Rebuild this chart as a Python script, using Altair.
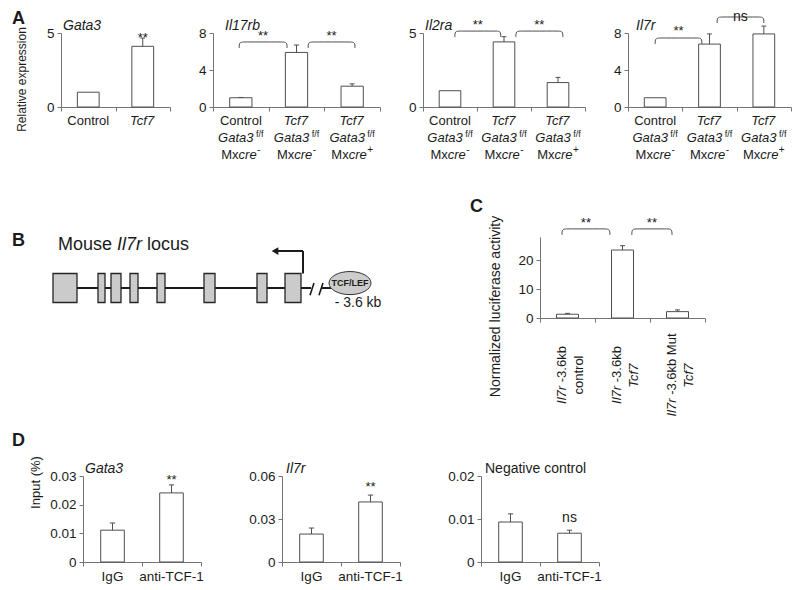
import altair as alt
import pandas as pd

FONT = "Liberation Sans"
INK = "#1b1b1b"
AXIS_C = "#747474"
BAR_C = "#4f4f4f"

# ---------------- Panel A : relative expression ----------------
gata3_groups = ["Control", "Tcf7"]
gata3_values = [1.0, 4.1]
gata3_err = [1.0, 4.66]
gata3_stars = [(1.5, 4.93, "**")]

cko_line1 = ["Control", "Tcf7", "Tcf7"]
cko_mxcre = ["-", "-", "+"]

il17rb_values = [1.0, 5.9, 2.25]
il17rb_err = [1.03, 6.7, 2.5]
il17rb_brackets = [(0.47, 1.33, 7.03, "**", 8.1), (1.71, 2.55, 7.03, "**", 8.1)]

il2ra_values = [1.1, 4.4, 1.65]
il2ra_err = [1.1, 4.75, 2.0]
il2ra_brackets = [(0.59, 1.44, 5.13, "**", 5.8), (1.72, 2.59, 5.13, "**", 5.8)]

il7r_values = [1.0, 6.8, 7.9]
il7r_err = [1.0, 7.9, 8.75]
il7r_brackets = [(0.5, 1.36, 7.46, "**", 8.65), (1.64, 2.5, 9.73, "ns", 9.78)]

# ---------------- Panel B : Il7r locus schematic ----------------
exon_start = [0, 45, 58, 77, 104, 151, 204, 232]
exon_end = [24, 52, 68, 85, 112, 162, 214, 248]
backbone_start = [0, 268]
backbone_end = [258, 315]
break_pos = [259, 268]
tss_pos = [250]
tcf_site = [297]

# ---------------- Panel C : luciferase ----------------
luc_line1_rest = ["-3.6kb", "-3.6kb", "-3.6kb Mut"]
luc_line2 = ["control", "Tcf7", "Tcf7"]
luc_values = [1.3, 23.5, 2.2]
luc_err = [1.6, 25.0, 2.8]
luc_brackets = [(0.4, 1.27, 30.8, "**", 34.3), (1.67, 2.4, 30.8, "**", 34.3)]

# ---------------- Panel D : ChIP ----------------
chip_groups = ["IgG", "anti-TCF-1"]
chip_gata3 = [0.0111, 0.0241]
chip_gata3_err = [0.0136, 0.0269]
chip_il7r = [0.0195, 0.0419]
chip_il7r_err = [0.0237, 0.0467]
chip_neg = [0.0093, 0.0067]
chip_neg_err = [0.0112, 0.0074]

# approximate Arial / Liberation Sans advance widths (per 1000 em)
CHAR_W = {" ": 278, "-": 333, ".": 278, "/": 278, "+": 584, "*": 389, "%": 889,
          "(": 333, ")": 333,
          "A": 667, "B": 667, "C": 722, "D": 722, "E": 667, "F": 611, "G": 778,
          "I": 278, "L": 556, "M": 833, "N": 722, "T": 611,
          "a": 556, "b": 556, "c": 500, "d": 556, "e": 556, "f": 278, "g": 556,
          "i": 222, "k": 500, "l": 222, "m": 833, "n": 556, "o": 556, "p": 556,
          "r": 333, "s": 500, "t": 278, "u": 556, "v": 500, "x": 500, "y": 500, "z": 500}
for _d in "0123456789":
    CHAR_W[_d] = 556


def text_w(s, size):
    return sum(CHAR_W.get(ch, 556) for ch in s) * size / 1000.0


def letter(ch, x, y):
    return alt.Chart(pd.DataFrame({"t": [ch]})).mark_text(
        align="left", baseline="middle", fontSize=18, fontWeight="bold", color=INK, font=FONT
    ).encode(x=alt.value(x), y=alt.value(y), text="t:N")


def gene_name(text, dx, italic=True):
    return alt.Chart(pd.DataFrame({"t": [text]})).mark_text(
        align="left", baseline="alphabetic", fontSize=14,
        fontStyle="italic" if italic else "normal", color=INK, font=FONT
    ).encode(x=alt.value(dx), y=alt.value(-3), text="t:N")


def bar_panel(values, errs, ymax, yticks, width, height, brackets=(), stars=(),
              ytitle=None, ytitle_xy=(0, 0), ytitle_size=13):
    n = len(values)
    xs = alt.Scale(domain=[0, n], nice=False, zero=False)
    ys = alt.Scale(domain=[0, ymax], nice=False, zero=True)
    xax = alt.Axis(values=list(range(n + 1)), labels=False, title=None, grid=False,
                   tickSize=4, tickColor=AXIS_C, domainColor=AXIS_C)
    yk = dict(values=list(yticks), format="~r", grid=False, tickSize=4, tickColor=AXIS_C,
              domainColor=AXIS_C, labelFontSize=13.5, labelColor=INK, labelFont=FONT,
              labelPadding=3)
    if ytitle:
        yk.update(title=ytitle, titleFont=FONT, titleFontSize=ytitle_size, titleFontWeight="normal",
                  titleColor=INK, titleAngle=270, titleAlign="center", titleBaseline="middle",
                  titleX=ytitle_xy[0], titleY=ytitle_xy[1])
    else:
        yk["title"] = None
    yax = alt.Axis(**yk)

    def X(f):
        return alt.X(f, type="quantitative", scale=xs, axis=xax)

    def Y(f):
        return alt.Y(f, type="quantitative", scale=ys, axis=yax)

    df = pd.DataFrame({"i": list(range(n)), "v": values, "e": errs})
    base = alt.Chart(df).transform_calculate(
        lo="datum.i + 0.3", hi="datum.i + 0.7", c="datum.i + 0.5",
        c0="datum.i + 0.455", c1="datum.i + 0.545", z="0")
    layers = [
        base.mark_rect(fill="white", stroke=BAR_C, strokeWidth=1).encode(
            x=X("lo"), x2=alt.X2("hi"), y=Y("v"), y2=alt.Y2("z")),
    ]
    eb = base.transform_filter("datum.e > datum.v")
    layers.append(eb.mark_rule(color=BAR_C, strokeWidth=1).encode(
        x=X("c"), y=Y("v"), y2=alt.Y2("e")))
    layers.append(eb.mark_rule(color=BAR_C, strokeWidth=1).encode(
        x=X("c0"), x2=alt.X2("c1"), y=Y("e")))

    drop = 6.0 * ymax / height
    rows = []
    star_rows = list(stars)
    for bid, (a, b, lev, lab, llev) in enumerate(brackets):
        r = 0.09
        pts = [(a, lev - drop), (a, lev), (a + r, lev), (b - r, lev), (b, lev), (b, lev - drop)]
        for k, (px_, py_) in enumerate(pts):
            rows.append({"id": bid, "k": k, "bx": px_, "by": py_})
        star_rows.append(((a + b) / 2.0, llev, lab))
    if rows:
        layers.append(alt.Chart(pd.DataFrame(rows)).mark_line(
            interpolate="basis", color=BAR_C, strokeWidth=1).encode(
            x=X("bx"), y=Y("by"), detail="id:N", order="k:Q"))
    for lab in sorted(set(s[2] for s in star_rows)):
        sdf = pd.DataFrame([{"sx": s[0], "sy": s[1], "t": s[2]} for s in star_rows if s[2] == lab])
        layers.append(alt.Chart(sdf).mark_text(
            fontSize=13 if lab == "**" else 14, dy=4 if lab == "**" else 0,
            baseline="middle", align="center", color=INK, font=FONT).encode(
            x=X("sx"), y=Y("sy"), text="t:N"))
    return layers, X, n


def line_parts(i, parts, n, width, yoff):
    total = sum(p[4] + text_w(p[0], p[2]) for p in parts)
    cur = -total / 2.0
    out = []
    for t, it, sz, rz, gap in parts:
        cur += gap
        out.append({"x": i + 0.5 + cur * n / width, "text": t, "italic": bool(it),
                    "size": float(sz), "yoff": float(yoff - rz)})
        cur += text_w(t, sz)
    return out


def label_layers(rows, X, height):
    df = pd.DataFrame(rows)
    out = []
    for key, g in df.groupby(["italic", "size", "yoff"], sort=False):
        it, sz, yo = key
        out.append(alt.Chart(g[["x", "text"]].reset_index(drop=True)).mark_text(
            align="left", baseline="middle", fontSize=float(sz),
            fontStyle="italic" if bool(it) else "normal", color=INK, font=FONT).encode(
            x=X("x"), y=alt.value(float(height + yo)), text="text:N"))
    return out


def cko_rows(n, width):
    rows = []
    for i in range(3):
        rows += line_parts(i, [(cko_line1[i], cko_line1[i] != "Control", 13, 0, 0)], n, width, 14)
        rows += line_parts(i, [("Gata3", True, 13, 0, 0), ("f/f", False, 9, 4, 2.5)], n, width, 31)
        rows += line_parts(i, [("Mx", False, 13, 0, 0), ("cre", True, 13, 0, 0),
                               (cko_mxcre[i], False, 10, 5, 0.5)], n, width, 48)
    return rows


H_A = 74
# ---- A1 Gata3
W1 = 109
lay, X, n = bar_panel(gata3_values, gata3_err, 5, [0, 5], W1, H_A, stars=gata3_stars,
                      ytitle="Relative expression", ytitle_xy=(-40, 46), ytitle_size=12)
rows = []
for i, g in enumerate(gata3_groups):
    rows += line_parts(i, [(g, g != "Control", 13, 0, 0)], n, W1, 14)
lay += label_layers(rows, X, H_A)
lay.append(letter("A", -49, -14))
lay.append(gene_name("Gata3", 2))
a1 = alt.layer(*lay).properties(width=W1, height=H_A)

# ---- A2 Il17rb
W2 = 167
lay, X, n = bar_panel(il17rb_values, il17rb_err, 8, [0, 4, 8], W2, H_A, brackets=il17rb_brackets)
lay += label_layers(cko_rows(n, W2), X, H_A)
lay.append(gene_name("Il17rb", 12))
a2 = alt.layer(*lay).properties(width=W2, height=H_A)

# ---- A3 Il2ra
W3 = 162
lay, X, n = bar_panel(il2ra_values, il2ra_err, 5, [0, 5], W3, H_A, brackets=il2ra_brackets)
lay += label_layers(cko_rows(n, W3), X, H_A)
lay.append(gene_name("Il2ra", 2))
a3 = alt.layer(*lay).properties(width=W3, height=H_A)

# ---- A4 Il7r
W4 = 163
lay, X, n = bar_panel(il7r_values, il7r_err, 8, [0, 4, 8], W4, H_A, brackets=il7r_brackets)
lay += label_layers(cko_rows(n, W4), X, H_A)
lay.append(gene_name("Il7r", 8))
a4 = alt.layer(*lay).properties(width=W4, height=H_A)

# ---------------- Panel B chart ----------------
WB, HB = 320, 108
bxs = alt.Scale(domain=[8, 328], nice=False, zero=False)
bys = alt.Scale(domain=[-3.931, 3.517], nice=False, zero=False)


def BX(f):
    return alt.X(f, type="quantitative", scale=bxs, axis=None)


def BY(f):
    return alt.Y(f, type="quantitative", scale=bys, axis=None)


b_layers = []
b_layers.append(alt.Chart(pd.DataFrame({"s": backbone_start, "e": backbone_end}))
                .transform_calculate(z="0")
                .mark_rule(color=INK, strokeWidth=2)
                .encode(x=BX("s"), x2=alt.X2("e"), y=BY("z")))
b_layers.append(alt.Chart(pd.DataFrame({"b": break_pos}))
                .transform_calculate(x0="datum.b - 2", x1="datum.b + 2", y0="-0.5", y1="0.35")
                .mark_rule(color=INK, strokeWidth=1.6)
                .encode(x=BX("x0"), x2=alt.X2("x1"), y=BY("y0"), y2=alt.Y2("y1")))
b_layers.append(alt.Chart(pd.DataFrame({"s": exon_start, "e": exon_end}))
                .transform_calculate(lo="-1", hi="1")
                .mark_rect(fill="#cbcbcb", stroke="#262626", strokeWidth=1.3)
                .encode(x=BX("s"), x2=alt.X2("e"), y=BY("lo"), y2=alt.Y2("hi")))
tss = alt.Chart(pd.DataFrame({"t": tss_pos}))
b_layers.append(tss.transform_calculate(y0="1", y1="2.55")
                .mark_rule(color=INK, strokeWidth=2)
                .encode(x=BX("t"), y=BY("y0"), y2=alt.Y2("y1")))
b_layers.append(tss.transform_calculate(x1="datum.t - 25", y="2.55")
                .mark_rule(color=INK, strokeWidth=2)
                .encode(x=BX("t"), x2=alt.X2("x1"), y=BY("y")))
b_layers.append(tss.transform_calculate(x1="datum.t - 28", y="2.55")
                .mark_point(shape="triangle-left", size=60, filled=True, color=INK, opacity=1)
                .encode(x=BX("x1"), y=BY("y")))
ELL = "M-1,0A1,0.55,0,1,1,1,0A1,0.55,0,1,1,-1,0Z"
site = alt.Chart(pd.DataFrame({"p": tcf_site}))
b_layers.append(site.transform_calculate(y="0.34")
                .mark_point(shape=ELL, size=1764, filled=True, fill="#cccccc", stroke="#333333",
                            strokeWidth=1, opacity=1)
                .encode(x=BX("p"), y=BY("y")))
b_layers.append(site.transform_calculate(y="0.34")
                .mark_text(text="TCF/LEF", fontWeight="bold", fontSize=9, color=INK, font=FONT,
                           align="center", baseline="middle")
                .encode(x=BX("p"), y=BY("y")))
b_layers.append(site.transform_calculate(x="datum.p + 8", y="-1.03")
                .mark_text(text="- 3.6 kb", fontSize=14, color=INK, font=FONT,
                           align="center", baseline="middle")
                .encode(x=BX("x"), y=BY("y")))
# title "Mouse Il7r locus"
cur = 5.0
sp = text_w(" ", 18)
for t, it in (("Mouse", False), ("Il7r", True), ("locus", False)):
    b_layers.append(alt.Chart(pd.DataFrame({"x": [cur], "t": [t]}))
                    .transform_calculate(y="2.97")
                    .mark_text(align="left", baseline="middle", fontSize=18,
                               fontStyle="italic" if it else "normal", color=INK, font=FONT)
                    .encode(x=BX("x"), y=BY("y"), text="t:N"))
    cur += text_w(t, 18) + sp
b_layers.append(letter("B", -49, 4))
b_chart = alt.layer(*b_layers).properties(width=WB, height=HB)

# ---------------- Panel C chart ----------------
WC, HC = 165, 81
lay, X, n = bar_panel(luc_values, luc_err, 28, [0, 10, 20], WC, HC, brackets=luc_brackets,
                      ytitle="Normalized luciferase activity", ytitle_xy=(-45, 69), ytitle_size=14)
for i in range(3):
    l1 = [("Il7r", True, 13, 0, 0), (luc_line1_rest[i], False, 13, 0, text_w(" ", 13))]
    l2 = [(luc_line2[i], luc_line2[i] == "Tcf7", 13, 0, 0)]
    for parts, perp in ((l1, -6), (l2, 11)):
        total = sum(p[4] + text_w(p[0], p[2]) for p in parts)
        cur = -total / 2.0
        for t, it, sz, rz, gap in parts:
            cur += gap
            lay.append(alt.Chart(pd.DataFrame({"x": [i + 0.5], "t": [t]})).mark_text(
                angle=270, align="left", baseline="middle", dx=cur, dy=perp, fontSize=sz,
                fontStyle="italic" if it else "normal", color=INK, font=FONT).encode(
                x=X("x"), y=alt.value(138), text="t:N"))
            cur += text_w(t, sz)
lay.append(letter("C", -70, -30))
c_chart = alt.layer(*lay).properties(width=WC, height=HC)

# ---------------- Panel D charts ----------------
WD, HD = 118, 86


def chip_panel(vals, errs, ymax, ticks, stars, title, tdx, italic, ytitle=None, ytitle_xy=(0, 0)):
    lay, X, n = bar_panel(vals, errs, ymax, ticks, WD, HD, stars=stars,
                          ytitle=ytitle, ytitle_xy=ytitle_xy, ytitle_size=13)
    rows = []
    for i, g in enumerate(chip_groups):
        rows += line_parts(i, [(g, False, 13.5, 0, 0)], n, WD, 15)
    lay += label_layers(rows, X, HD)
    lay.append(gene_name(title, tdx, italic))
    return alt.layer(*lay).properties(width=WD, height=HD)


d1 = chip_panel(chip_gata3, chip_gata3_err, 0.03, [0, 0.01, 0.02, 0.03], [(1.5, 0.0300, "**")],
                "Gata3", 2, True, ytitle="Input (%)", ytitle_xy=(-48, 6))
d2 = chip_panel(chip_il7r, chip_il7r_err, 0.06, [0, 0.03, 0.06], [(1.5, 0.0551, "**")],
                "Il7r", 4, True)
d3 = chip_panel(chip_neg, chip_neg_err, 0.02, [0, 0.01, 0.02], [(1.5, 0.0102, "ns")],
                "Negative control", 4, False)
spacer = alt.layer(letter("D", -49, -35)).properties(width=22, height=HD)

# nested concat groups count as zero-size in a flush layout, so spacing = distance between row tops
rowA = alt.hconcat(a1, a2, a3, a4, spacing=43, bounds="flush")
rowBC = alt.hconcat(b_chart, c_chart, spacing=159, bounds="flush")
rowD = alt.hconcat(spacer, alt.hconcat(d1, d2, d3, spacing=81, bounds="flush"),
                   spacing=0, bounds="flush")
lower = alt.vconcat(rowBC, rowD, spacing=239, bounds="flush")

chart = (alt.vconcat(rowA, lower, spacing=204, bounds="flush")
         .properties(padding={"left": 4, "top": 1, "right": 0, "bottom": 0})
         .configure(font=FONT)
         .configure_view(stroke=None, strokeWidth=0))

chart.save("out.html", embed_options={"renderer": "svg", "actions": False})
